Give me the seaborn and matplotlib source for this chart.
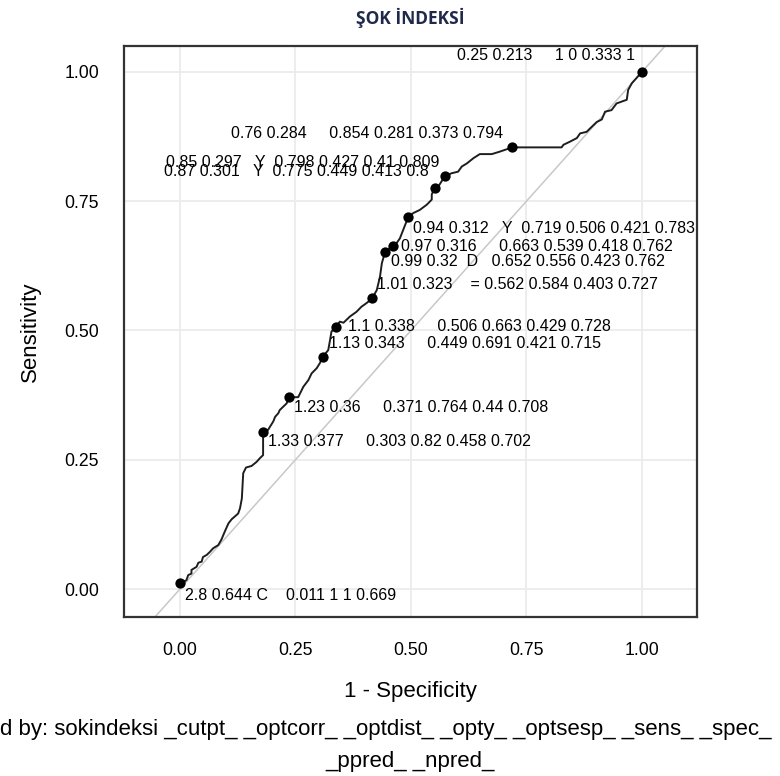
import matplotlib
matplotlib.use("Agg")
import matplotlib.pyplot as plt
import seaborn as sns
import pandas as pd

# ROC curve (1 - specificity, sensitivity)
curve_fpr = [0.0, 0.014, 0.018, 0.025, 0.025, 0.036, 0.040, 0.047, 0.050, 0.058, 0.065, 0.072,
             0.083, 0.090, 0.097, 0.105, 0.112, 0.126, 0.130, 0.134, 0.137, 0.143, 0.155, 0.166,
             0.173, 0.180, 0.180, 0.191, 0.195, 0.202, 0.206, 0.213, 0.216, 0.224, 0.231, 0.236,
             0.256, 0.267, 0.278, 0.285, 0.296, 0.303, 0.309, 0.321, 0.325, 0.328, 0.337, 0.346,
             0.354, 0.368, 0.382, 0.393, 0.404, 0.416, 0.426, 0.433, 0.437, 0.444, 0.461, 0.469,
             0.476, 0.483, 0.494, 0.505, 0.519, 0.534, 0.545, 0.545, 0.551, 0.559, 0.566, 0.573,
             0.588, 0.602, 0.610, 0.621, 0.635, 0.649, 0.675, 0.693, 0.719, 0.826, 0.830, 0.844,
             0.859, 0.866, 0.880, 0.895, 0.902, 0.913, 0.920, 0.934, 0.945, 0.967, 0.970, 0.978,
             0.985, 1.0]
curve_tpr = [0.011, 0.017, 0.027, 0.030, 0.037, 0.043, 0.051, 0.053, 0.062, 0.066, 0.072, 0.079,
             0.085, 0.096, 0.111, 0.127, 0.135, 0.146, 0.156, 0.175, 0.224, 0.235, 0.238, 0.246,
             0.253, 0.259, 0.303, 0.308, 0.314, 0.324, 0.333, 0.340, 0.346, 0.353, 0.359, 0.371,
             0.371, 0.391, 0.404, 0.417, 0.427, 0.437, 0.449, 0.462, 0.482, 0.498, 0.506, 0.517,
             0.515, 0.527, 0.536, 0.546, 0.553, 0.562, 0.578, 0.604, 0.630, 0.652, 0.663, 0.669,
             0.678, 0.694, 0.719, 0.727, 0.733, 0.743, 0.753, 0.763, 0.775, 0.778, 0.788, 0.798,
             0.804, 0.807, 0.817, 0.823, 0.833, 0.841, 0.841, 0.846, 0.854, 0.854, 0.859, 0.865,
             0.872, 0.881, 0.884, 0.897, 0.903, 0.908, 0.923, 0.926, 0.939, 0.946, 0.965, 0.978,
             0.985, 1.0]

# labelled cut points
sokindeksi = [2.8, 1.33, 1.23, 1.13, 1.1, 1.01, 0.99, 0.97, 0.94, 0.87, 0.85, 0.76, 0.25]
cutpt = [0.644, 0.377, 0.36, 0.343, 0.338, 0.323, 0.32, 0.316, 0.312, 0.301, 0.297, 0.284, 0.213]
optcorr = ["C", "", "", "", "", "", "", "", "", "", "", "", ""]
optdist = ["", "", "", "", "", "", "D", "", "", "", "", "", ""]
opty = ["", "", "", "", "", "", "", "", "Y", "Y", "Y", "", ""]
optsesp = ["", "", "", "", "", "=", "", "", "", "", "", "", ""]
sens = [0.011, 0.303, 0.371, 0.449, 0.506, 0.562, 0.652, 0.663, 0.719, 0.775, 0.798, 0.854, 1]
spec = [1, 0.82, 0.764, 0.691, 0.663, 0.584, 0.556, 0.539, 0.506, 0.449, 0.427, 0.281, 0]
ppred = [1, 0.458, 0.44, 0.421, 0.429, 0.403, 0.423, 0.418, 0.421, 0.413, 0.41, 0.373, 0.333]
npred = [0.669, 0.702, 0.708, 0.715, 0.728, 0.727, 0.762, 0.762, 0.783, 0.8, 0.809, 0.794, 1]

# label placement (offset in px, side)
lab_dx = [5, 5, 5, 6, 12, 5, 6, 8, 5, -6, -5, -9, -7]
lab_dy = [-12, -9, -10, 13, 1, 14, -10, 0, -11, 17, 14, 14, 16]

curve = pd.DataFrame({"fpr": curve_fpr, "tpr": curve_tpr})
pts = pd.DataFrame({"fpr": [1 - s for s in spec], "tpr": sens})

sns.set_style("white")
plt.rcParams["font.family"] = ["Liberation Sans", "DejaVu Sans"]
plt.rcParams["text.color"] = "black"
plt.rcParams["axes.labelcolor"] = "black"
plt.rcParams["xtick.color"] = "black"
plt.rcParams["ytick.color"] = "black"

fig = plt.figure(figsize=(7.8, 7.76), dpi=100)
ax = fig.add_axes([124 / 780, 1 - 617 / 776, (697 - 124) / 780, (617 - 46) / 776])

ax.grid(True, color="#ececec", linewidth=1.3)
ax.set_axisbelow(True)
ax.axline((0, 0), slope=1, color="#c8c8c8", linewidth=1.1, zorder=1)

sns.lineplot(data=curve, x="fpr", y="tpr", sort=False, estimator=None,
             color="#1e1e1e", linewidth=1.4, ax=ax, zorder=2)
sns.scatterplot(data=pts, x="fpr", y="tpr", color="black", s=55,
                edgecolor="black", linewidth=0, ax=ax, zorder=3)

f = lambda v: f"{v:g}"
for i in range(len(sens)):
    txt = " ".join([f(sokindeksi[i]), f(cutpt[i]), optcorr[i], optdist[i], opty[i],
                    optsesp[i], f(sens[i]), f(spec[i]), f(ppred[i]), f(npred[i])])
    ax.annotate(txt, (1 - spec[i], sens[i]),
                xytext=(lab_dx[i] * 0.72, lab_dy[i] * 0.72), textcoords="offset points",
                ha="left" if lab_dx[i] > 0 else "right", va="center",
                fontsize=11.5, color="black", zorder=4)

ax.set_xlim(-0.121, 1.119)
ax.set_ylim(-0.054, 1.05)
ax.set_xticks([0, 0.25, 0.5, 0.75, 1.0])
ax.set_yticks([0, 0.25, 0.5, 0.75, 1.0])
ax.set_xticklabels(["0.00", "0.25", "0.50", "0.75", "1.00"])
ax.set_yticklabels(["0.00", "0.25", "0.50", "0.75", "1.00"])
ax.tick_params(axis="both", direction="out", length=8, width=1.4, color="#555555",
               labelsize=12.7, pad=10)
for sp in ax.spines.values():
    sp.set_color("#333333")
    sp.set_linewidth(1.6)

ax.set_xlabel("1 - Specificity", fontsize=16, labelpad=16)
ax.set_ylabel("Sensitivity", fontsize=16, labelpad=17)

fig.text(410 / 780, 1 - 18 / 776, "ŞOK İNDEKSİ", ha="center", va="center",
         fontsize=12.5, fontweight="bold", color="#1f2a4a", family=["Open Sans", "DejaVu Sans"])
fig.text(0.0, 1 - 730 / 776,
         "d by: sokindeksi _cutpt_ _optcorr_ _optdist_ _opty_ _optsesp_ _sens_ _spec_",
         ha="left", va="center", fontsize=16)
fig.text(410 / 780, 1 - 762 / 776, "_ppred_ _npred_", ha="center", va="center", fontsize=16)

fig.savefig("out.png", dpi=100)
